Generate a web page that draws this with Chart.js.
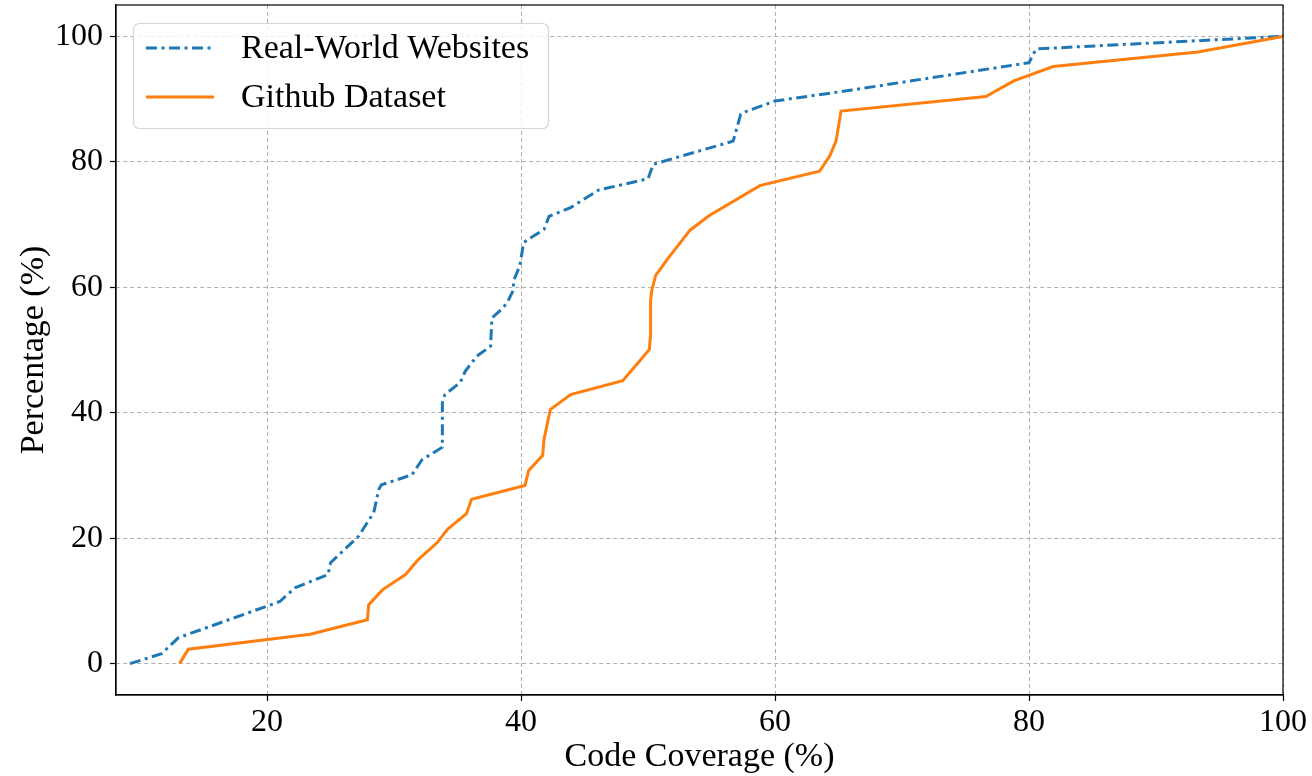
<!DOCTYPE html>
<html>
<head>
<meta charset="utf-8">
<title>Code Coverage</title>
<script src="https://cdn.jsdelivr.net/npm/chart.js@4"></script>
<style>
  html, body { margin: 0; padding: 0; background: #fff; }
</style>
</head>
<body>
<canvas id="myChart" width="1312" height="776"></canvas>
<script>
// series
const seriesNames = ['Real-World Websites', 'Github Dataset'];

const webCoverage = [9.2, 11.7, 13.0, 13.8, 21.0, 22.2, 24.8, 25.0, 27.2, 28.4, 28.8, 29.0, 31.4, 32.2, 33.8, 33.8,
  34.0, 35.2, 35.6, 36.5, 37.6, 37.7, 38.3, 38.9, 39.4, 39.4, 39.9, 40.2, 40.6, 41.8, 42.2, 43.9, 46.1,
  50.0, 50.4, 56.7, 57.3, 57.8, 60.0, 65.9, 80.0, 80.4, 80.6, 100];
const webPercent = [0, 1.6, 4.1, 4.7, 9.9, 12.1, 14.2, 16.1, 20.3, 24.1, 27.8, 28.5, 30.1, 32.5, 34.5, 41.6,
  42.9, 44.8, 46.6, 49.0, 50.6, 55.1, 56.2, 57.5, 59.6, 61.0, 63.4, 67.1, 67.7, 69.2, 71.3, 72.7, 75.5,
  77.3, 79.6, 83.3, 87.6, 88.1, 89.7, 91.4, 95.8, 97.4, 98.0, 100];

const ghCoverage = [13.1, 13.8, 23.4, 27.9, 28.0, 29.1, 30.9, 31.9, 32.8, 33.4, 34.2, 35.7, 36.1, 40.3, 40.6,
  41.7, 41.8, 42.3, 43.9, 48.0, 49.1, 50.1, 50.2, 50.2, 50.3, 50.6, 51.5, 53.3, 54.8, 58.8, 63.5, 64.3,
  64.8, 65.2, 76.6, 78.8, 81.9, 93.3, 100];
const ghPercent = [0, 2.3, 4.7, 7.0, 9.4, 11.8, 14.2, 16.6, 18.2, 19.3, 21.4, 23.9, 26.2, 28.4, 30.8,
  33.2, 35.7, 40.5, 42.9, 45.1, 47.7, 50.1, 52.5, 58.0, 59.6, 61.9, 64.4, 69.1, 71.4, 76.2, 78.5, 80.9,
  83.3, 88.1, 90.4, 92.9, 95.2, 97.5, 100];

const xTicks = [20, 40, 60, 80, 100];
const yTicks = [0, 20, 40, 60, 80, 100];

const serif = '"Liberation Serif", "Times New Roman", serif';
Chart.defaults.font.family = serif;
Chart.defaults.color = '#000';

function toPoints(xs, ys) {
    return xs.map((x, i) => ({ x: x, y: ys[i] }));
}

// black box around the plot area
const frame = {
    id: 'frame',
    afterDatasetsDraw(chart) {
        const { ctx, chartArea: a } = chart;
        ctx.save();
        ctx.strokeStyle = '#000';
        ctx.lineWidth = 1.2;
        ctx.strokeRect(a.left, a.top, a.right - a.left, a.bottom - a.top);
        ctx.restore();
    }
};

// matplotlib style legend in the upper left corner
const insideLegend = {
    id: 'insideLegend',
    afterDraw(chart) {
        const { ctx, chartArea } = chart;
        const x = chartArea.left + 17, y = chartArea.top + 18, w = 415, h = 105;
        ctx.save();
        ctx.beginPath();
        ctx.roundRect(x + 0.5, y + 0.5, w, h, 6);
        ctx.fillStyle = 'rgba(255,255,255,0.8)';
        ctx.fill();
        ctx.strokeStyle = '#d6d6d6';
        ctx.lineWidth = 1.2;
        ctx.stroke();
        chart.data.datasets.forEach((ds, i) => {
            const cy = y + 25 + i * 49;
            ctx.beginPath();
            ctx.setLineDash(ds.borderDash || []);
            ctx.strokeStyle = ds.borderColor;
            ctx.lineWidth = ds.borderWidth;
            ctx.moveTo(x + 13, cy);
            ctx.lineTo(x + 81, cy);
            ctx.stroke();
            ctx.setLineDash([]);
            ctx.fillStyle = '#000';
            ctx.font = '34px ' + serif;
            ctx.textBaseline = 'middle';
            ctx.fillText(ds.label, x + 108, cy + 1);
        });
        ctx.restore();
    }
};

function renderChart() {
    const ctx = document.getElementById('myChart').getContext('2d');
    new Chart(ctx, {
        type: 'line',
        data: {
            datasets: [{
                label: seriesNames[0],
                data: toPoints(webCoverage, webPercent),
                borderColor: '#1f77b4',
                borderWidth: 3,
                borderDash: [11, 4.5, 3, 4.5],
                borderCapStyle: 'butt',
                pointRadius: 0,
                tension: 0,
                fill: false,
                order: 2
            }, {
                label: seriesNames[1],
                data: toPoints(ghCoverage, ghPercent),
                borderColor: '#ff7f0e',
                borderWidth: 3,
                pointRadius: 0,
                tension: 0,
                fill: false,
                order: 1
            }]
        },
        options: {
            responsive: false,
            animation: false,
            layout: { padding: { left: 0, top: 5, right: 29, bottom: 0 } },
            plugins: {
                legend: { display: false },
                tooltip: { enabled: false }
            },
            scales: {
                x: {
                    type: 'linear',
                    min: 8.1,
                    max: 100,
                    afterBuildTicks: (scale) => { scale.ticks = xTicks.map(v => ({ value: v })); },
                    afterFit: (scale) => {
                        scale.height = 81;
                        scale.paddingLeft = 0;
                        scale.paddingRight = 0;
                    },
                    grid: { color: '#b0b0b0', lineWidth: 1, tickColor: '#000', tickLength: 6, tickWidth: 1.2 },
                    border: { color: '#000', width: 1.2, dash: [4, 3] },
                    ticks: { font: { size: 32 }, padding: 2, maxRotation: 0 },
                    title: {
                        display: true,
                        text: 'Code Coverage (%)',
                        font: { size: 34, lineHeight: 1.05 },
                        padding: { top: 0, bottom: 1 }
                    }
                },
                y: {
                    min: -5,
                    max: 105,
                    afterBuildTicks: (scale) => { scale.ticks = yTicks.map(v => ({ value: v })); },
                    afterFit: (scale) => {
                        scale.width = 116;
                        scale.paddingTop = 0;
                        scale.paddingBottom = 0;
                    },
                    grid: { color: '#b0b0b0', lineWidth: 1, tickColor: '#000', tickLength: 6, tickWidth: 1.2 },
                    border: { color: '#000', width: 1.2, dash: [4, 3] },
                    ticks: { font: { size: 32 }, padding: 7 },
                    title: {
                        display: true,
                        text: 'Percentage (%)',
                        font: { size: 34, lineHeight: 1.2 },
                        padding: { top: 14, bottom: 0 }
                    }
                }
            }
        },
        plugins: [frame, insideLegend]
    });
}

renderChart();
</script>
</body>
</html>
